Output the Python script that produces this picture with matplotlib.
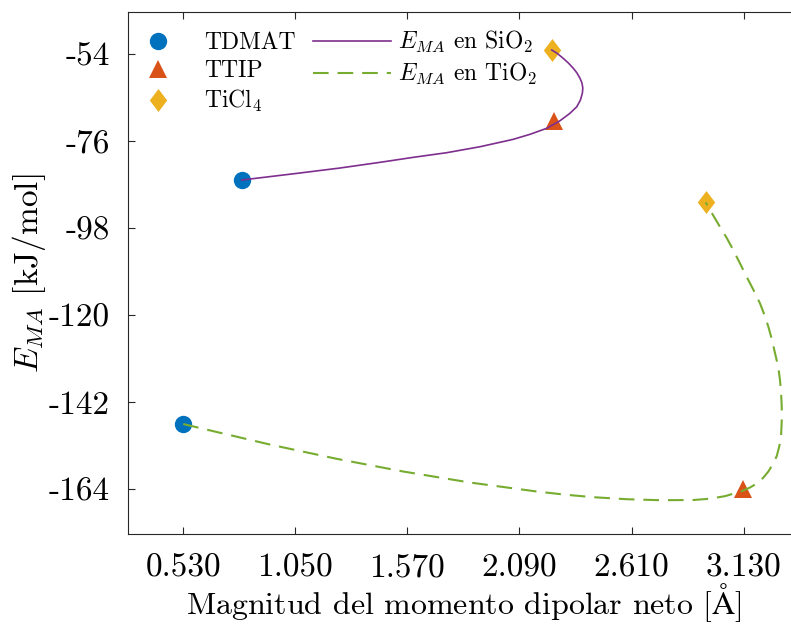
import matplotlib.pyplot as plt
from matplotlib.lines import Line2D

plt.rcParams["font.family"] = ["cmr10", "DejaVu Serif"]
plt.rcParams["mathtext.fontset"] = "cm"
plt.rcParams["axes.unicode_minus"] = False
plt.rcParams["axes.formatter.use_mathtext"] = True

# Precursor points (dipole magnitude, adsorption energy)
precursors = ["TDMAT", "TTIP", r"TiCl$_4$"]
dipole_sio2 = [0.801, 2.252, 2.240]
ema_sio2 = [-85.8, -70.9, -53.0]
dipole_tio2 = [0.530, 3.126, 2.954]
ema_tio2 = [-147.5, -163.9, -91.5]

# Smooth curves
sio2_curve_x = [0.801, 1.056, 1.257, 1.443, 1.597, 1.752, 1.907, 2.061, 2.139, 2.216,
                2.278, 2.324, 2.356, 2.373, 2.382, 2.384, 2.380, 2.371, 2.357, 2.340,
                2.317, 2.293, 2.266, 2.240]
sio2_curve_y = [-85.84, -84.17, -82.81, -81.37, -80.11, -78.94, -77.43, -75.56, -74.29,
                -72.78, -70.86, -68.99, -67.32, -65.62, -63.86, -62.59, -61.33, -60.14,
                -58.80, -57.61, -56.27, -55.09, -53.87, -52.99]
tio2_curve_x = [0.530, 0.623, 0.932, 1.242, 1.551, 1.860, 2.170, 2.309, 2.433, 2.588,
                2.742, 2.897, 2.974, 3.044, 3.123, 3.160, 3.191, 3.220, 3.245, 3.266,
                3.284, 3.296, 3.304, 3.307, 3.307, 3.304, 3.299, 3.290, 3.276, 3.262,
                3.245, 3.227, 3.206, 3.176, 3.144, 3.113, 3.082, 3.052, 3.020, 2.988,
                2.954]
tio2_curve_y = [-147.51, -148.72, -152.69, -156.30, -159.51, -162.29, -164.56, -165.40,
                -166.00, -166.51, -166.76, -166.71, -166.38, -165.73, -164.44, -163.55,
                -162.54, -161.15, -159.51, -157.61, -155.59, -153.07, -150.29, -146.75,
                -143.21, -139.67, -136.39, -132.85, -129.64, -126.28, -122.92, -119.96,
                -117.00, -113.64, -110.28, -106.89, -103.53, -100.50, -97.64, -94.69,
                -91.48]

x_ticks = [0.530, 1.050, 1.570, 2.090, 2.610, 3.130]
y_ticks = [-164, -142, -120, -98, -76, -54]

colors = ["#0072BD", "#D95319", "#EDB120"]
diamond = [(0, 1), (0.76, 0), (0, -1), (-0.76, 0), (0, 1)]
markers = ["o", "^", diamond]
sizes = [12.5, 13.5, 16.5]

fig = plt.figure(figsize=(7.91, 6.25), dpi=100)
ax = fig.add_axes([0.1614, 0.1456, 0.8495, 0.8357])

handles = []
for i, name in enumerate(precursors):
    ax.plot([dipole_sio2[i], dipole_tio2[i]], [ema_sio2[i], ema_tio2[i]],
            linestyle="none", marker=markers[i], markersize=sizes[i],
            color=colors[i], markeredgewidth=0, zorder=2)
    handles.append(Line2D([], [], linestyle="none", marker=markers[i],
                          markersize=sizes[i], color=colors[i],
                          markeredgewidth=0, label=name))

l1, = ax.plot(sio2_curve_x, sio2_curve_y, color="#7E2F8E", lw=1.2, zorder=3,
              label=r"$E_{MA}$ en SiO$_2$")
l2, = ax.plot(tio2_curve_x, tio2_curve_y, color="#77AC30", lw=1.5, zorder=3,
              dashes=(7.5, 4.3), label=r"$E_{MA}$ en TiO$_2$")
blank = Line2D([], [], linestyle="none", label=" ")
handles += [l1, l2, blank]

ax.set_xlim(0.272, 3.39)
ax.set_ylim(-175.3, -43.3)
ax.set_xticks(x_ticks)
ax.set_xticklabels([f"{v:.3f}" for v in x_ticks])
ax.set_yticks(y_ticks)
ax.set_yticklabels([str(v) for v in y_ticks])

for side in ["left", "bottom", "top", "right"]:
    ax.spines[side].set_color("#262626")
    ax.spines[side].set_linewidth(0.8)
ax.tick_params(direction="in", length=5, width=0.8, color="#262626",
               labelsize=24, top=True, right=False)
ax.tick_params(axis="x", pad=14)
ax.tick_params(axis="y", pad=13)

ax.set_xlabel(r"Magnitud del momento dipolar neto [$\mathrm{\AA}$]", fontsize=23, labelpad=-1)
ax.set_ylabel(r"$E_{MA}$ [kJ/mol]", fontsize=24, labelpad=0)

fig.legend(handles=handles, ncol=2, frameon=False, fontsize=17,
           loc="upper left", bbox_to_anchor=(119 / 791, 1 - 29 / 625),
           borderpad=0, borderaxespad=0, handlelength=3.3, handletextpad=0.3,
           columnspacing=0.76, labelspacing=0.26)

fig.savefig("out.png", dpi=100)
